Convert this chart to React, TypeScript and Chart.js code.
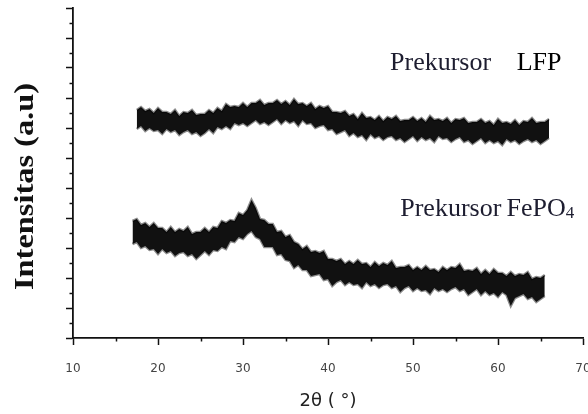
import { useEffect, useRef } from "react";
import { Chart, registerables } from "chart.js";

Chart.register(...registerables);

// 2θ grid (degrees) shared by both patterns
const twoTheta = [
  17, 17.5, 18, 18.5, 19, 19.5, 20, 20.5, 21, 21.5, 22, 22.5, 23, 23.5, 24, 24.5,
  25, 25.5, 26, 26.5, 27, 27.5, 28, 28.5, 29, 29.5, 30, 30.5, 31, 31.5, 32, 32.5,
  33, 33.5, 34, 34.5, 35, 35.5, 36, 36.5, 37, 37.5, 38, 38.5, 39, 39.5, 40, 40.5,
  41, 41.5, 42, 42.5, 43, 43.5, 44, 44.5, 45, 45.5, 46, 46.5, 47, 47.5, 48, 48.5,
  49, 49.5, 50, 50.5, 51, 51.5, 52, 52.5, 53, 53.5, 54, 54.5, 55, 55.5, 56, 56.5,
  57, 57.5, 58, 58.5, 59, 59.5, 60, 60.5, 61, 61.5, 62, 62.5, 63, 63.5, 64, 64.5,
  65, 65.5, 66,
];

// Prekursor LFP – upper / lower edge of the noisy trace (a.u.)
const lfpUpper = [
  null, 228, 231, 227, 229, 225, 230, 226, 226, 224, 228, 222, 226, 225, 228, 223,
  224, 224, 228, 225, 230, 227, 234, 231, 232, 231, 235, 231, 235, 235, 238, 233,
  235, 235, 238, 234, 237, 233, 239, 234, 235, 232, 235, 229, 232, 230, 232, 226,
  226, 225, 227, 222, 224, 219, 225, 220, 221, 218, 222, 217, 221, 219, 222, 217,
  218, 218, 221, 217, 220, 216, 222, 218, 219, 217, 220, 215, 219, 218, 220, 215,
  216, 216, 219, 215, 217, 213, 219, 215, 216, 214, 218, 213, 217, 216, 220, 215,
  216, 216, 219,
];
const lfpLower = [
  null, 209, 212, 207, 210, 207, 208, 204, 209, 206, 208, 203, 206, 208, 204, 206,
  202, 205, 209, 205, 211, 209, 212, 209, 215, 213, 215, 212, 215, 218, 214, 216,
  213, 216, 219, 214, 218, 215, 217, 212, 218, 214, 215, 210, 212, 213, 208, 209,
  204, 206, 208, 202, 205, 201, 203, 198, 204, 200, 202, 198, 201, 202, 198, 200,
  196, 199, 202, 197, 201, 198, 200, 196, 202, 199, 200, 196, 199, 201, 196, 198,
  194, 197, 200, 195, 198, 195, 197, 193, 199, 196, 198, 194, 197, 199, 196, 198,
  194, 197, 200,
];

// Prekursor FePO4 – upper / lower edge of the noisy trace (a.u.)
const fepoUpper = [
  117, 119, 113, 115, 111, 115, 110, 110, 106, 111, 106, 109, 107, 111, 104, 106,
  106, 110, 106, 111, 110, 117, 115, 118, 117, 125, 123, 128, 138, 130, 119, 118,
  114, 114, 106, 107, 101, 103, 96, 94, 89, 92, 86, 87, 85, 87, 79, 79,
  77, 79, 74, 77, 74, 78, 74, 75, 71, 76, 72, 75, 73, 77, 70, 71,
  71, 73, 68, 71, 68, 72, 68, 69, 66, 71, 68, 71, 70, 74, 67, 68,
  67, 70, 64, 68, 64, 69, 65, 65, 62, 66, 62, 64, 63, 66, 59, 61,
  60, 63, null,
];
const fepoLower = [
  94, 96, 90, 92, 88, 89, 84, 89, 85, 87, 82, 85, 86, 82, 84, 79,
  83, 87, 83, 88, 87, 91, 89, 97, 96, 101, 99, 104, 107, 101, 99, 91,
  91, 91, 83, 84, 78, 77, 70, 73, 68, 68, 62, 63, 64, 58, 59, 52,
  56, 58, 53, 56, 53, 54, 50, 56, 52, 54, 50, 53, 54, 50, 52, 46,
  50, 52, 47, 50, 47, 48, 44, 50, 47, 49, 46, 49, 51, 47, 49, 43,
  46, 49, 43, 47, 43, 45, 41, 46, 43, 32, 40, 42, 44, 39, 41, 36,
  39, 42, null,
];

// axis ticks
const xMinorTicks = [15, 25, 35, 45, 55, 65];
const yMinorTicks = [15, 45, 75, 105, 135, 165, 195, 225, 255, 285, 315];

// annotations: text, 2θ position, intensity position (baseline)
const labelLfpX = [47.3, 62.2];
const labelLfpText = ["Prekursor", "LFP"];
const labelLfpY = 268;
const labelFepoX = [48.5, 61.0];
const labelFepoText = ["Prekursor", "FePO"];
const labelFepoY = 122;

const pts = (ys: (number | null)[]) => twoTheta.map((x, i) => ({ x, y: ys[i] }));

const decorPlugin = {
  id: "decor",
  afterDraw(chart: any) {
    const { ctx, scales } = chart;
    const x = scales.x;
    const y = scales.y;
    ctx.save();
    // minor ticks
    ctx.strokeStyle = "#111";
    ctx.lineWidth = 1.5;
    for (const v of xMinorTicks) {
      const px = Math.round(x.getPixelForValue(v)) + 0.5;
      ctx.beginPath();
      ctx.moveTo(px, y.bottom);
      ctx.lineTo(px, y.bottom + 3.5);
      ctx.stroke();
    }
    for (const v of yMinorTicks) {
      const py = Math.round(y.getPixelForValue(v)) + 0.5;
      ctx.beginPath();
      ctx.moveTo(x.left, py);
      ctx.lineTo(x.left - 3.5, py);
      ctx.stroke();
    }
    // annotations
    ctx.textAlign = "left";
    ctx.textBaseline = "alphabetic";
    ctx.font = "26px 'Liberation Serif'";
    ctx.fillStyle = "#1d1d30";
    ctx.fillText(labelLfpText[0], x.getPixelForValue(labelLfpX[0]), y.getPixelForValue(labelLfpY));
    ctx.fillStyle = "#000";
    ctx.fillText(labelLfpText[1], x.getPixelForValue(labelLfpX[1]), y.getPixelForValue(labelLfpY));
    ctx.fillStyle = "#1d1d30";
    ctx.fillText(labelFepoText[0], x.getPixelForValue(labelFepoX[0]), y.getPixelForValue(labelFepoY));
    const fx = x.getPixelForValue(labelFepoX[1]);
    const fy = y.getPixelForValue(labelFepoY);
    ctx.fillText(labelFepoText[1], fx, fy);
    const w = ctx.measureText(labelFepoText[1]).width;
    ctx.font = "17px 'Liberation Serif'";
    ctx.fillText("4", fx + w, fy + 2);
    // y axis title
    ctx.font = "bold 27px 'Liberation Serif'";
    ctx.fillStyle = "#111";
    const title = "Intensitas (a.u)";
    const tw = ctx.measureText(title).width;
    ctx.translate(33, 290);
    ctx.rotate(-Math.PI / 2);
    ctx.scale(207 / tw, 1);
    ctx.fillText(title, 0, 0);
    ctx.restore();
  },
};

export default function App() {
  const ref = useRef<HTMLCanvasElement | null>(null);

  useEffect(() => {
    if (!ref.current) return;
    const bandStyle = {
      borderColor: "rgba(0,0,0,0.45)",
      borderWidth: 2.5,
      borderJoinStyle: "miter" as const,
      backgroundColor: "#111",
      pointRadius: 0,
      tension: 0,
    };
    const chart = new Chart(ref.current, {
      type: "line",
      data: {
        datasets: [
          { ...bandStyle, label: "LFP upper", data: pts(lfpUpper), fill: "+1" },
          { ...bandStyle, label: "LFP lower", data: pts(lfpLower), fill: false },
          { ...bandStyle, label: "FePO4 upper", data: pts(fepoUpper), fill: "+1" },
          { ...bandStyle, label: "FePO4 lower", data: pts(fepoLower), fill: false },
        ],
      },
      options: {
        animation: false,
        responsive: false,
        devicePixelRatio: 1,
        layout: { padding: { top: 8, right: 5, left: 0, bottom: 0 } },
        plugins: {
          legend: { display: false },
          tooltip: { enabled: false },
        },
        scales: {
          x: {
            type: "linear",
            min: 10,
            max: 70,
            afterFit: (s: any) => {
              s.height = 76;
              s.paddingLeft = 0;
              s.paddingRight = 0;
            },
            ticks: {
              stepSize: 10,
              font: { family: "'DejaVu Sans'", size: 12 },
              color: "#444",
              padding: 17,
              maxRotation: 0,
            },
            grid: {
              drawOnChartArea: false,
              drawTicks: true,
              tickLength: 7,
              tickColor: "#111",
              tickWidth: 1.5,
            },
            border: { display: true, color: "#111", width: 1.8 },
            title: {
              display: true,
              text: "2θ ( °)",
              font: { family: "'DejaVu Sans'", size: 18 },
              color: "#222",
              padding: { top: 0, bottom: 2 },
            },
          },
          y: {
            min: 0,
            max: 330,
            afterFit: (s: any) => {
              s.width = 73;
            },
            ticks: { stepSize: 30, display: false },
            grid: {
              drawOnChartArea: false,
              drawTicks: true,
              tickLength: 7,
              tickColor: "#111",
              tickWidth: 1.5,
            },
            border: { display: true, color: "#111", width: 1.8 },
          },
        },
      },
      plugins: [decorPlugin],
    });
    return () => chart.destroy();
  }, []);

  return (
    <div style={{ position: "fixed", left: 0, top: 0, width: 588, height: 414, background: "#fff" }}>
      <canvas ref={ref} width={588} height={414} style={{ display: "block" }} />
    </div>
  );
}
